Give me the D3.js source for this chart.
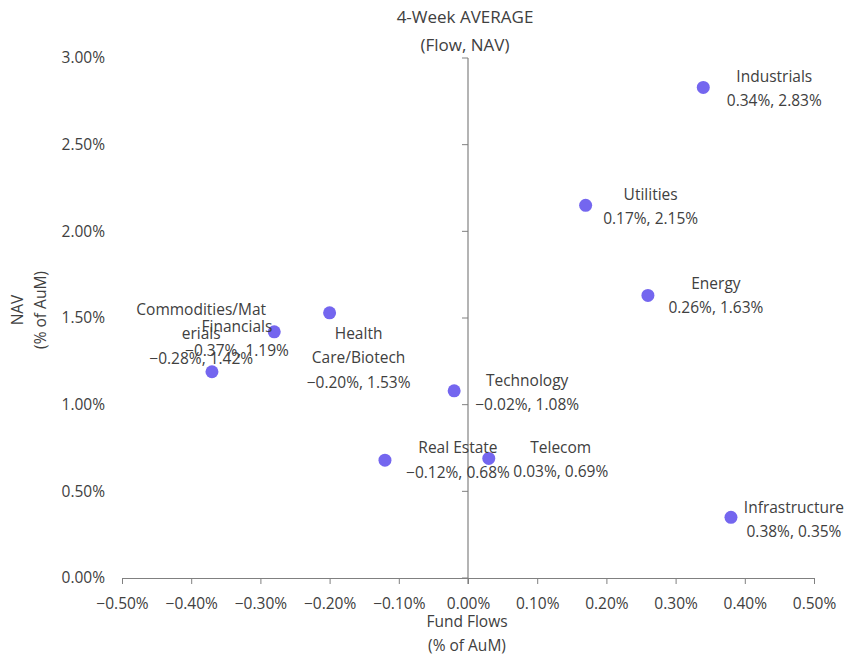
<!DOCTYPE html>
<html>
<head>
<meta charset="utf-8">
<script src="https://cdn.jsdelivr.net/npm/d3@7"></script>
<style>
  body { margin: 0; background: #fff; }
  svg text { font-family: "Open Sans", "Noto Sans", sans-serif; fill: #404040; }
</style>
</head>
<body>
<div id="chart"></div>
<script>
// sectors, fund flows (% of AuM) and NAV (% of AuM)
var sectors = ['Industrials', 'Utilities', 'Energy', 'Commodities/Materials', 'Financials',
  'Health Care/Biotech', 'Technology', 'Real Estate', 'Telecom', 'Infrastructure'];
var flows = [0.34, 0.17, 0.26, -0.28, -0.37, -0.20, -0.02, -0.12, 0.03, 0.38];
var navs = [2.83, 2.15, 1.63, 1.42, 1.19, 1.53, 1.08, 0.68, 0.69, 0.35];
var x_ticks = [-0.5, -0.4, -0.3, -0.2, -0.1, 0, 0.1, 0.2, 0.3, 0.4, 0.5];
var y_ticks = [0, 0.5, 1, 1.5, 2, 2.5, 3];

// label placement (wrapped name lines + block centre offset from the point)
var label_lines = [['Industrials'], ['Utilities'], ['Energy'], ['Commodities/Mat', 'erials'],
  ['Financials'], ['Health', 'Care/Biotech'], ['Technology'], ['Real Estate'], ['Telecom'], ['Infrastructure']];
var label_dx = [71, 65, 68, -73, 25, 29, 73, 73, 72, 63];
var label_dy = [1, 1, 0, 2, -33, 45, 2, 0, 1, 2];

var width = 851, height = 657;
var margin = {top: 58, right: 37, bottom: 80, left: 122};
var line_h = 24.5;
var fs = '15.5px';

var svg = d3.select('#chart').append('svg')
  .attr('width', width)
  .attr('height', height);

var x_scale = d3.scaleLinear().domain([-0.5, 0.5]).range([margin.left, width - margin.right]);
var y_scale = d3.scaleLinear().domain([0, 3]).range([height - margin.bottom + 1, margin.top]);

var fmt = function(v){ return v.toFixed(2) + '%'; };
var fmt_label = function(v){ return (v < 0 ? '\u2212' : '') + Math.abs(v).toFixed(2) + '%'; };

// vertical axis through x = 0
svg.append('line')
  .attr('x1', x_scale(0)).attr('x2', x_scale(0))
  .attr('y1', y_scale(3)).attr('y2', y_scale(0) + 6)
  .attr('stroke', '#b4b4b4')
  .attr('stroke-width', 2);

svg.selectAll('.ytick')
  .data(y_ticks)
  .enter()
  .append('line')
    .attr('x1', x_scale(0) - 6).attr('x2', x_scale(0))
    .attr('y1', function(d){ return y_scale(d); })
    .attr('y2', function(d){ return y_scale(d); })
    .attr('stroke', '#808080');

svg.selectAll('.ylab')
  .data(y_ticks)
  .enter()
  .append('text')
    .attr('x', 105)
    .attr('y', function(d){ return y_scale(d); })
    .attr('dy', '0.35em')
    .attr('text-anchor', 'end')
    .style('font-size', fs)
    .text(fmt);

// horizontal axis at y = 0
var x_axis = d3.axisBottom(x_scale)
  .tickValues(x_ticks)
  .tickSize(6)
  .tickFormat(fmt_label);

var gx = svg.append('g')
  .attr('transform', 'translate(0,' + y_scale(0) + ')')
  .call(x_axis);
gx.select('.domain').attr('stroke', '#808080');
gx.selectAll('.tick line').attr('stroke', '#808080');
gx.selectAll('.tick text')
  .attr('y', 26)
  .attr('dy', '0.35em')
  .attr('fill', '#404040')
  .style('font-size', fs)
  .style('font-family', '"Open Sans", sans-serif');

// points
svg.selectAll('circle')
  .data(sectors)
  .enter()
  .append('circle')
    .attr('cx', function(d, i){ return x_scale(flows[i]); })
    .attr('cy', function(d, i){ return y_scale(navs[i]); })
    .attr('r', 6.5)
    .attr('fill', '#7466ef');

// data labels
var labels = svg.selectAll('.lab')
  .data(sectors)
  .enter()
  .append('text')
    .attr('class', 'lab')
    .attr('text-anchor', 'middle')
    .style('font-size', fs);

labels.each(function(d, i){
  var lines = label_lines[i].concat([fmt_label(flows[i]) + ', ' + fmt_label(navs[i])]);
  var cx = x_scale(flows[i]) + label_dx[i];
  var cy = y_scale(navs[i]) + label_dy[i] - (lines.length - 1) * line_h / 2;
  var t = d3.select(this);
  lines.forEach(function(l, k){
    t.append('tspan')
      .attr('x', cx)
      .attr('y', cy + k * line_h)
      .attr('dy', '0.35em')
      .text(l);
  });
});

// titles
svg.append('text')
  .attr('x', 465).attr('y', 17).attr('dy', '0.35em')
  .attr('text-anchor', 'middle')
  .style('font-size', '17px')
  .text('4-Week AVERAGE');
svg.append('text')
  .attr('x', 465).attr('y', 45).attr('dy', '0.35em')
  .attr('text-anchor', 'middle')
  .style('font-size', '17px')
  .text('(Flow, NAV)');

svg.append('text')
  .attr('x', 467).attr('y', 622).attr('dy', '0.35em')
  .attr('text-anchor', 'middle')
  .style('font-size', fs)
  .text('Fund Flows');
svg.append('text')
  .attr('x', 467).attr('y', 646).attr('dy', '0.35em')
  .attr('text-anchor', 'middle')
  .style('font-size', fs)
  .text('(% of AuM)');

svg.append('text')
  .attr('transform', 'translate(18,310)rotate(-90)')
  .attr('dy', '0.35em')
  .attr('text-anchor', 'middle')
  .style('font-size', fs)
  .text('NAV');
svg.append('text')
  .attr('transform', 'translate(41,310)rotate(-90)')
  .attr('dy', '0.35em')
  .attr('text-anchor', 'middle')
  .style('font-size', fs)
  .text('(% of AuM)');
</script>
</body>
</html>
